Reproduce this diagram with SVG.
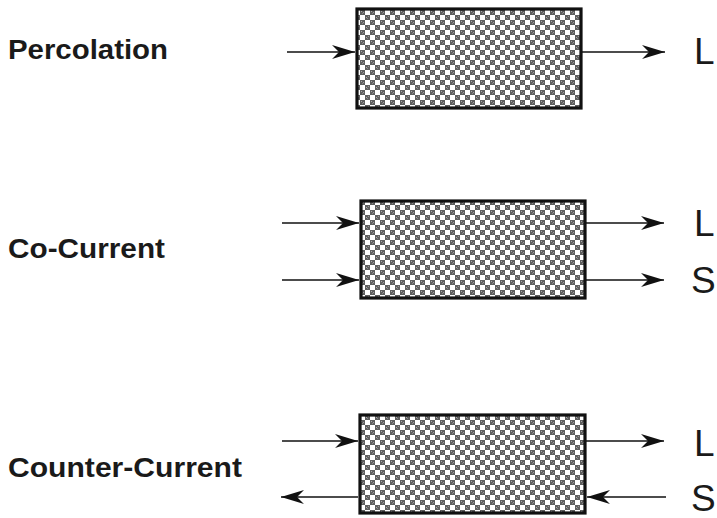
<svg xmlns="http://www.w3.org/2000/svg" width="717" height="518" viewBox="0 0 717 518">
  <style>
    .label { font-family: "Liberation Sans", Arial, sans-serif; font-weight: bold; font-size: 27px; fill: #1a1a1a; }
    .stream { font-family: "Liberation Sans", Arial, sans-serif; font-size: 37px; fill: #1a1a1a; }
    .bed { fill: url(#checker); stroke: #111; stroke-width: 3.2; }
    .flow { stroke: #111; stroke-width: 1.6; fill: none; marker-end: url(#head); }
  </style>
  <defs>
    <!-- packed-bed fill: 5px grey/white checkerboard with speckle -->
    <pattern id="checker" patternUnits="userSpaceOnUse" width="10" height="10">
      <rect width="10" height="10" fill="#fff"/>
      <rect x="0" y="0" width="5" height="5" fill="#5e5e5e"/>
      <rect x="5" y="5" width="5" height="5" fill="#5e5e5e"/>
      <rect x="1" y="1" width="1" height="1" fill="#aaa"/>
      <rect x="3" y="2" width="1" height="1" fill="#999"/>
      <rect x="2" y="3" width="1" height="1" fill="#888"/>
      <rect x="6" y="7" width="1" height="1" fill="#aaa"/>
      <rect x="8" y="6" width="1" height="1" fill="#999"/>
      <rect x="7" y="8" width="1" height="1" fill="#888"/>
    </pattern>
    <marker id="head" markerUnits="userSpaceOnUse" markerWidth="24" markerHeight="16" refX="23" refY="7.5" orient="auto">
      <path d="M0,0.5 L23,7.5 L0,14.5 L7,7.5 Z" fill="#111"/>
    </marker>
  </defs>

  <!-- Percolation -->
  <g id="percolation">
    <text class="label" x="8" y="59" textLength="160" lengthAdjust="spacingAndGlyphs">Percolation</text>
    <rect class="bed" x="357" y="9" width="224" height="99"/>
    <text class="stream" x="694" y="64">L</text>
  </g>

  <!-- Co-current -->
  <g id="co-current">
    <text class="label" x="8" y="258" textLength="157" lengthAdjust="spacingAndGlyphs">Co-Current</text>
    <rect class="bed" x="361" y="201" width="224" height="97"/>
    <text class="stream" x="694" y="236">L</text>
    <text class="stream" x="691" y="293">S</text>
  </g>

  <!-- Counter-current -->
  <g id="counter-current">
    <text class="label" x="8" y="477" textLength="234" lengthAdjust="spacingAndGlyphs">Counter-Current</text>
    <rect class="bed" x="360" y="415" width="225" height="98"/>
    <text class="stream" x="694" y="456">L</text>
    <text class="stream" x="691" y="511">S</text>
  </g>

  <g id="connectors">
    <line class="flow" x1="287" y1="52" x2="355" y2="52"/>
    <line class="flow" x1="582" y1="52" x2="665" y2="52"/>

    <line class="flow" x1="282" y1="223" x2="359" y2="223"/>
    <line class="flow" x1="282" y1="280" x2="359" y2="280"/>
    <line class="flow" x1="586" y1="223" x2="664" y2="223"/>
    <line class="flow" x1="586" y1="280" x2="664" y2="280"/>

    <line class="flow" x1="282" y1="441" x2="358" y2="441"/>
    <line class="flow" x1="586" y1="441" x2="664" y2="441"/>
    <line class="flow" x1="358" y1="497" x2="281" y2="497"/>
    <line class="flow" x1="666" y1="497" x2="587" y2="497"/>
  </g>
</svg>
